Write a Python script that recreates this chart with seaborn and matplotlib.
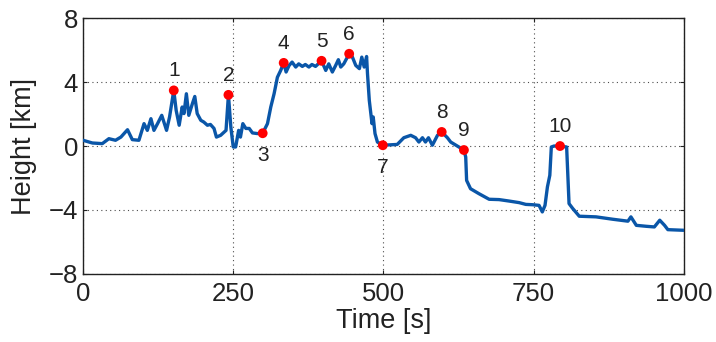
import matplotlib
matplotlib.use("Agg")
import matplotlib.pyplot as plt
import seaborn as sns
import pandas as pd

# Trace of height vs time
time_s = [0, 15.5, 32, 43, 54, 63, 74, 82, 93, 101.5, 107, 113, 118, 124, 131, 139, 144, 151,
          155, 160, 165, 168, 172, 176, 182, 186, 190, 196, 201, 207, 212, 218, 222, 229, 238, 242,
          246, 250, 254, 259, 262, 266, 271, 276.6, 282, 290, 299, 307, 312.5, 318, 323.5, 329, 334,
          338, 343, 348, 354, 359, 365, 370, 376, 381, 387, 397, 404, 409, 415, 420.5, 425, 429, 434,
          443, 448, 454, 460, 464, 468, 472, 473.5, 476.5, 481, 483, 486, 490, 499, 523,
          534, 545.5, 553.5, 559, 565, 570, 575, 581.5, 590, 597, 606.5, 612, 623, 634,
          637, 638.5, 645, 659, 676, 692.5, 709, 726, 737, 748, 759, 764.5, 769, 773, 777,
          779.5, 784, 794, 805, 809, 815, 826, 854, 882, 907, 912, 921, 937.5, 951, 960, 968,
          973.5, 1000]
height_km = [0.36, 0.19, 0.15, 0.46, 0.36, 0.56, 1.02, 0.4, 0.36, 1.4, 0.98, 1.71, 0.98, 1.4, 1.92, 0.98, 1.82, 3.48,
             2.23, 1.3, 2.44, 2.03, 3.27, 1.92, 2.65, 3.1, 2.03, 1.61, 1.5, 1.3, 1.35, 1.1, 0.56, 0.67, 0.98, 3.2,
             1.19, -0.06, -0.06, 0.98, 0.56, 1.4, 1.1, 1.1, 0.82, 0.78, 0.8, 1.4, 2.44, 3.27, 4.3, 4.73, 5.2,
             4.63, 5.04, 5.25, 4.94, 5.14, 4.98, 5.1, 4.94, 5.1, 4.98, 5.33, 4.73, 5.14, 4.63, 5.04, 5.4, 4.94, 5.14,
             5.77, 5.6, 5.04, 4.84, 5.56, 4.94, 5.6, 4.52, 2.85, 1.4, 1.82, 0.78, 0.25, 0.05, 0.1,
             0.52, 0.67, 0.52, 0.25, 0.52, 0.25, 0.52, 0.05, 0.67, 0.88, 0.52, 0.25, 0.0, -0.25,
             -0.69, -2.15, -2.67, -2.98, -3.33, -3.35, -3.44, -3.54, -3.65, -3.67, -3.71, -4.12, -3.71, -2.56, -1.83,
             -0.06, 0.0, 0.0, -0.06, -3.6, -3.9, -4.39, -4.43, -4.58, -4.7, -4.43, -4.96, -5.02, -5.06, -4.64, -4.96,
             -5.23, -5.27]

# Marked points
point_labels = ["1", "2", "3", "4", "5", "6", "7", "8", "9", "10"]
point_time = [151, 242, 299, 334, 397, 443, 499, 597, 634, 794]
point_height = [3.48, 3.2, 0.8, 5.2, 5.33, 5.77, 0.05, 0.88, -0.25, 0.0]
label_below = [False, False, True, False, False, False, True, False, False, False]

x_ticks = [0, 250, 500, 750, 1000]
y_ticks = [-8, -4, 0, 4, 8]

sns.set_style("ticks")
plt.rcParams['font.family'] = ['Liberation Sans', 'DejaVu Sans']

line_df = pd.DataFrame({"Time": time_s, "Height": height_km})
pts_df = pd.DataFrame({"Time": point_time, "Height": point_height, "label": point_labels})

fig = plt.figure(figsize=(7.16, 3.42), dpi=100)
ax = fig.add_axes([0.116, 0.199, 0.839, 0.748])

sns.lineplot(data=line_df, x="Time", y="Height", ax=ax, color="#0a56a8", linewidth=2.4, zorder=3)
sns.scatterplot(data=pts_df, x="Time", y="Height", ax=ax, color="#ff0000", s=50,
                edgecolor="none", zorder=4)

for lab, t, h, below in zip(point_labels, point_time, point_height, label_below):
    ax.annotate(lab, (t, h), xytext=(0, -16 if below else 14), textcoords="offset points",
                ha="center", va="center", fontsize=15, color="#222222")

ax.set_xlim(0, 1000)
ax.set_ylim(-8, 8)
ax.set_xticks(x_ticks)
ax.set_yticks(y_ticks)
ax.grid(True, linestyle=(0, (1, 3)), color="0.3", linewidth=0.8)
ax.tick_params(direction="in", length=3, labelsize=18.5, top=True, right=True, width=0.8,
               colors="#222222")
ax.tick_params(axis="x", pad=6)
ax.tick_params(axis="y", pad=3.5)
for s in ax.spines.values():
    s.set_visible(True)
    s.set_linewidth(1.0)
    s.set_color("#222222")
ax.set_xlabel("Time [s]", fontsize=19.5, color="#222222")
ax.set_ylabel("Height [km]", fontsize=19.5, color="#222222")
ax.xaxis.set_label_coords(0.5, -0.133)
ax.yaxis.set_label_coords(-0.0765, 0.5)

fig.savefig("out.png", dpi=100)
